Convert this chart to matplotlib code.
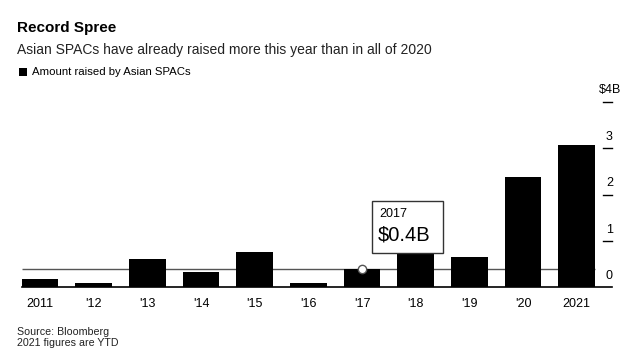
import matplotlib
matplotlib.use("Agg")
import matplotlib.pyplot as plt
from matplotlib.patches import Rectangle
from matplotlib.transforms import blended_transform_factory

plt.rcParams['font.family'] = ['Liberation Sans', 'DejaVu Sans']

# ---- data ----
year_labels = ['2011', "'12", "'13", "'14", "'15", "'16", "'17", "'18", "'19", "'20", '2021']
amounts = [0.19, 0.10, 0.62, 0.33, 0.77, 0.10, 0.40, 0.80, 0.66, 2.39, 3.06]
y_ticks = [0, 1, 2, 3, 4]
y_tick_labels = ['0', '1', '2', '3', '$4B']
hover_index = 6
hover_year = '2017'
hover_label = '$0.4B'

title = 'Record Spree'
subtitle = 'Asian SPACs have already raised more this year than in all of 2020'
legend_label = 'Amount raised by Asian SPACs'
footer = ['Source: Bloomberg', '2021 figures are YTD']

W, H = 640, 364
fig = plt.figure(figsize=(W / 100, H / 100), dpi=100)

# axes geometry (pixels)
ax_left_px, ax_right_px = 21.7, 611.7
base_px = 287.4
unit_px = 46.4
ymax = 4.3
ax = fig.add_axes([ax_left_px / W, (H - base_px) / H,
                   (ax_right_px - ax_left_px) / W, ymax * unit_px / H])

x = list(range(len(amounts)))
bar_w = 0.683
spacing_px = 53.67
first_center_px = 40.0
ax.set_xlim((ax_left_px - first_center_px) / spacing_px,
            (ax_right_px - first_center_px) / spacing_px)
ax.set_ylim(0, ymax)

ax.bar(x, amounts, width=bar_w, color='black', zorder=2)

# hover line and marker
hv = amounts[hover_index]
ax.hlines(hv, x[0] - bar_w / 2, x[-1] + bar_w / 2, color='#555555', lw=1.0, zorder=1)
ax.plot([x[hover_index]], [hv], marker='o', ms=6, mfc='white', mec='#555555',
        mew=1.0, zorder=5, clip_on=False)

# tooltip box
bx0, bx1 = 6.19, 7.50
by0, by1 = 0.735, 1.87
ax.add_patch(Rectangle((bx0, by0), bx1 - bx0, by1 - by0, facecolor='white',
                       edgecolor='#333333', lw=1.0, zorder=6))
ax.text(6.317, 1.58, hover_year, fontsize=9, ha='left', va='center', zorder=7)
ax.text(6.30, 1.14, hover_label, fontsize=14.5, ha='left', va='center', zorder=7)

# spines
for s in ['top', 'right', 'left']:
    ax.spines[s].set_visible(False)
ax.spines['bottom'].set_linewidth(1.2)
ax.spines['bottom'].set_color('black')
ax.spines['bottom'].set_zorder(3)

# x tick labels
ax.set_xticks(x, year_labels)
ax.tick_params(axis='x', length=0, pad=7.5, labelsize=9)
ax.set_yticks([])

# right y ticks (drawn above labels)
tr = blended_transform_factory(ax.transAxes, ax.transData)
tx0 = (603 - ax_left_px) / (ax_right_px - ax_left_px)
for v, lab in zip(y_ticks, y_tick_labels):
    if v > 0:
        ax.plot([tx0, 1.0], [v, v], color='black', lw=1.0, transform=tr, clip_on=False)
    xoff = 2.0 if lab.startswith('$') else 1.5
    ax.annotate(lab, xy=(tx0 + (1 - tx0) / 2, v), xycoords=tr,
                xytext=(xoff, 6.0), textcoords='offset points',
                ha='center', va='baseline', fontsize=9, annotation_clip=False)

# titles
fig.text(17 / W, 1 - 32.3 / H, title, fontsize=11, fontweight='bold', va='baseline', ha='left')
fig.text(17 / W, 1 - 54 / H, subtitle, fontsize=10, va='baseline', ha='left', color='#222222')
fig.patches.append(Rectangle((19 / W, 1 - 76 / H), 8 / W, 8 / H, transform=fig.transFigure,
                             facecolor='black', edgecolor='none'))
fig.text(32 / W, 1 - 75 / H, legend_label, fontsize=8.2, va='baseline', ha='left')

fig.text(17 / W, 1 - 335 / H, footer[0], fontsize=7.7, va='baseline', ha='left', color='#222222')
fig.text(17 / W, 1 - 346 / H, footer[1], fontsize=7.7, va='baseline', ha='left', color='#222222')

fig.savefig('out.png', dpi=100)
